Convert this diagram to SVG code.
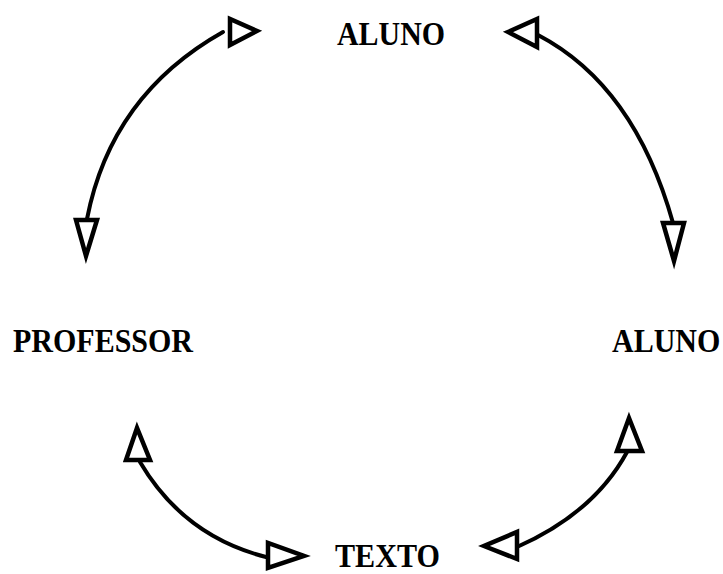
<svg xmlns="http://www.w3.org/2000/svg" width="723" height="574" viewBox="0 0 723 574">
<style>
.lbl{font-family:"Liberation Serif","Times New Roman",serif;font-weight:bold;font-size:33px;fill:#000}
.arc{fill:none;stroke:#000;stroke-width:4;stroke-linecap:round}
.head{fill:#fff;stroke:#000;stroke-width:4.5;stroke-linejoin:miter}
</style>
<rect width="723" height="574" fill="#fff"/>
<g id="connectors">
<path class="arc" d="M223,32 Q111,95 87,219"/>
<path class="arc" d="M538,35 Q634.5,85.5 673,223"/>
<path class="arc" d="M140,462 Q183.5,536 266,557"/>
<path class="arc" d="M627,452 Q594,513 517,547"/>
<polygon class="head" points="230,19 230,45 257,31"/>
<polygon class="head" points="76,220 97,220 86,256"/>
<polygon class="head" points="537,19 537,47 508,32"/>
<polygon class="head" points="663,223 684,223 674,261"/>
<polygon class="head" points="126,460 150,460 137,428"/>
<polygon class="head" points="268,543 268,568 304,556"/>
<polygon class="head" points="617,451 642,451 629,418"/>
<polygon class="head" points="517,532 517,559 484,546"/>
</g>
<g id="aluno-top"><text class="lbl" x="337" y="45" textLength="108" lengthAdjust="spacingAndGlyphs">ALUNO</text></g>
<g id="professor"><text class="lbl" x="13" y="352" textLength="180" lengthAdjust="spacingAndGlyphs">PROFESSOR</text></g>
<g id="aluno-right"><text class="lbl" transform="translate(612,352) scale(1,1.1)" style="font-size:30px">ALUNO</text></g>
<g id="texto"><text class="lbl" x="335" y="567" textLength="105" lengthAdjust="spacingAndGlyphs">TEXTO</text></g>
</svg>
